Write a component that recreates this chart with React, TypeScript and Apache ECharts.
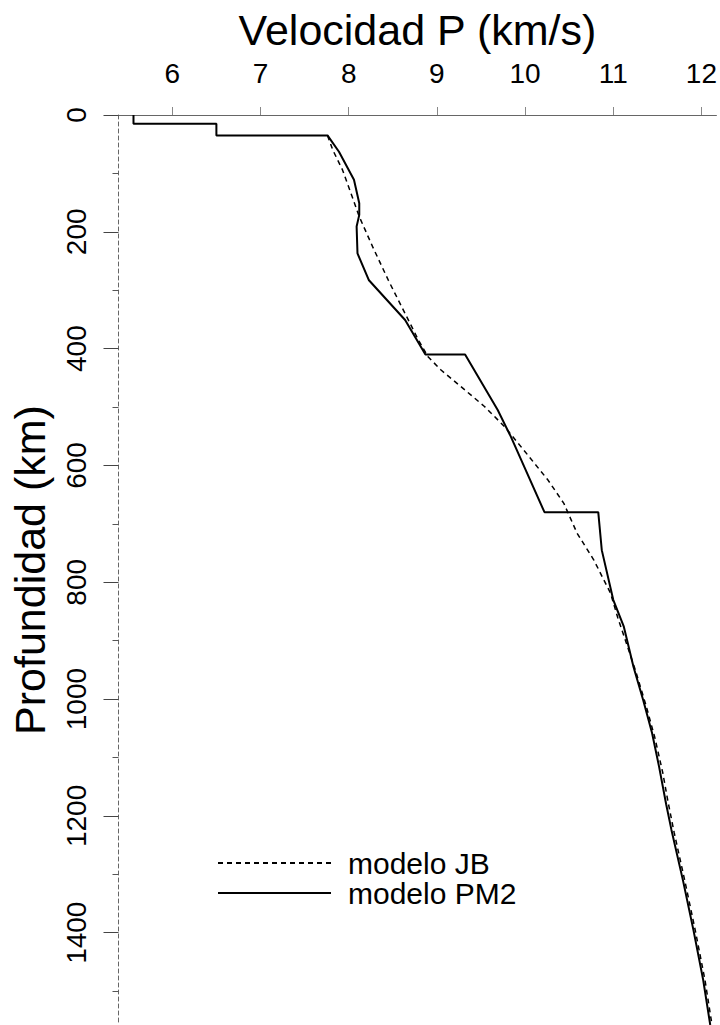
import React, { useEffect, useRef } from "react";
import * as echarts from "echarts";

const velocityTicks = [6, 7, 8, 9, 10, 11, 12];
const depthTicks = [0, 200, 400, 600, 800, 1000, 1200, 1400];
const seriesNames = ["modelo JB", "modelo PM2"];
const xTitle = "Velocidad P (km/s)";
const yTitle = "Profundidad (km)";

const jbVelocity = [7.76, 7.82, 7.93, 8.04, 8.12, 8.27, 8.45, 8.64, 8.79, 8.9, 9.05, 9.32, 9.54, 9.77, 10.03, 10.26, 10.44, 10.59, 10.78, 10.97, 11.05, 11.25, 11.37, 11.47, 11.56, 11.62, 11.69, 11.81, 11.93, 12.04, 12.12];
const jbDepth = [35, 60, 94, 140, 174, 225, 283, 340, 385, 414, 437, 471, 499, 534, 582, 625, 665, 716, 762, 819, 860, 950, 1010, 1065, 1125, 1175, 1228, 1310, 1396, 1481, 1558];

const pm2Velocity = [5.56, 5.56, 6.5, 6.5, 7.76, 7.89, 8.06, 8.12, 8.12, 8.09, 8.1, 8.23, 8.64, 8.87, 9.32, 9.69, 9.84, 10.22, 10.83, 10.87, 11.0, 11.12, 11.23, 11.34, 11.44, 11.52, 11.6, 11.66, 11.79, 11.91, 12.02, 12.1];
const pm2Depth = [0, 15, 15, 35, 35, 63, 111, 151, 171, 191, 237, 283, 351, 410, 410, 505, 551, 680, 680, 745, 830, 876, 945, 1002, 1058, 1116, 1180, 1224, 1310, 1396, 1481, 1558];

export default function App() {
  const ref = useRef<HTMLDivElement>(null);
  useEffect(() => {
    const chart = echarts.init(ref.current as HTMLDivElement, null, { renderer: "svg" });
    const font = "'Liberation Sans', Arial, Helvetica, sans-serif";
    const jbData = jbVelocity.map((v, i) => [v, jbDepth[i]]);
    const pm2Data = pm2Velocity.map((v, i) => [v, pm2Depth[i]]);
    chart.setOption({
      animation: false,
      backgroundColor: "#fff",
      textStyle: { fontFamily: font, color: "#000" },
      grid: { left: 118, top: 115, width: 602, height: 910, containLabel: false },
      xAxis: {
        type: "value",
        position: "top",
        min: 5.39,
        max: 12.17,
        name: xTitle,
        nameLocation: "middle",
        nameGap: 85,
        nameTextStyle: { fontSize: 43, color: "#000", fontFamily: font, verticalAlign: "middle" },
        axisLine: { show: true, lineStyle: { color: "#666", width: 1 } },
        axisTick: { show: true, length: 8, customValues: velocityTicks, lineStyle: { color: "#888", width: 1 } },
        axisLabel: { customValues: velocityTicks, fontSize: 28, color: "#000", margin: 28, fontFamily: font },
        splitLine: { show: false },
      },
      yAxis: {
        type: "value",
        inverse: true,
        min: 0,
        max: 1558,
        interval: 200,
        name: yTitle,
        nameLocation: "middle",
        nameGap: 89,
        nameTextStyle: { fontSize: 43, color: "#000", fontFamily: font, verticalAlign: "middle" },
        axisLine: { show: true, lineStyle: { color: "#666", width: 1, type: [4, 3] } },
        axisTick: { show: true, length: 15, lineStyle: { color: "#444", width: 1 } },
        minorTick: { show: true, splitNumber: 2, length: 6, lineStyle: { color: "#555", width: 1 } },
        axisLabel: {
          rotate: 90,
          fontSize: 28,
          color: "#000",
          margin: 28,
          showMaxLabel: false,
          fontFamily: font,
          formatter: (v: number) => (depthTicks.indexOf(v) >= 0 ? String(v) : ""),
        },
        splitLine: { show: false },
      },
      legend: {
        data: seriesNames,
        orient: "vertical",
        left: 212,
        top: 843,
        itemWidth: 113,
        itemHeight: 12,
        itemGap: 0,
        itemStyle: { opacity: 0 },
        textStyle: { fontSize: 30, color: "#000", padding: [0, 0, 0, 12], fontFamily: font },
      },
      series: [
        {
          name: seriesNames[1],
          type: "line",
          data: pm2Data,
          symbol: "none",
          lineStyle: { color: "#000", width: 2 },
          itemStyle: { color: "#000" },
        },
        {
          name: seriesNames[0],
          type: "line",
          data: jbData,
          symbol: "none",
          lineStyle: { color: "#000", width: 1.5, type: [5, 4] },
          itemStyle: { color: "#000" },
        },
      ],
    });
    return () => chart.dispose();
  }, []);
  return (
    <div
      ref={ref}
      style={{ position: "absolute", left: 0, top: 0, width: 720, height: 1025, background: "#fff" }}
    />
  );
}
